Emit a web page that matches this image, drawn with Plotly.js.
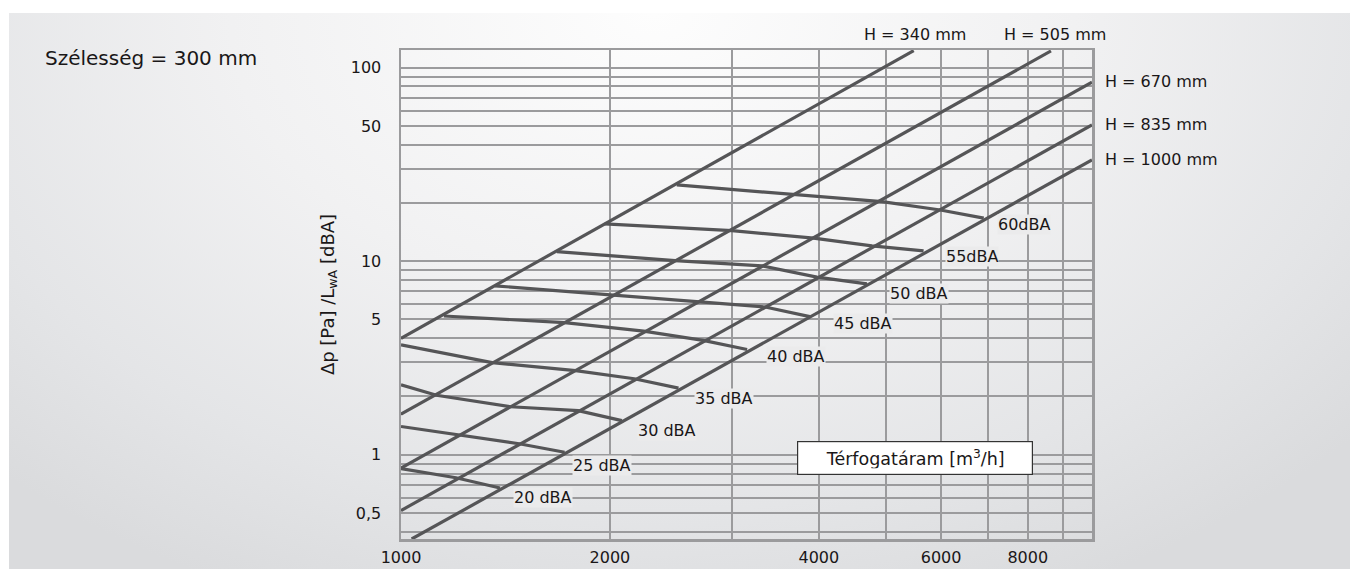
<!DOCTYPE html>
<html><head><meta charset="utf-8">
<script src="https://cdn.plot.ly/plotly-3.0.1.min.js"></script>
<style>
html,body{margin:0;padding:0;background:#fff;width:1360px;height:569px;overflow:hidden}
#panel{position:absolute;left:9px;top:13px;width:1341px;height:556px;
 background:radial-gradient(ellipse 70% 115% at 48% 0%, #fdfdfd 0%, #f1f1f2 45%, #e4e5e7 78%, #dadbdd 100%)}
#chart{position:absolute;left:0;top:0;width:1360px;height:569px}
</style></head><body>
<div id="panel"></div><div id="chart"></div>
<script>
// ---- axis ticks / grid ----
const xLabelVals = [1000,2000,4000,6000,8000];
const xLabelText = ['1000','2000','4000','6000','8000'];
const xMinorVals = [3000,5000,7000,9000];
const yLabelVals = [0.5,1,5,10,50,100];
const yLabelText = ['0,5','1','5','10','50','100'];
const yMinorVals = [0.4,0.6,0.7,0.8,0.9,2,3,4,6,7,8,9,20,30,40,60,70,80,90];

// ---- H (height) lines: volume flow [m3/h] and pressure drop [Pa] ----
const hNames = ['H = 340 mm','H = 505 mm','H = 670 mm','H = 835 mm','H = 1000 mm'];
const hFlow = [[1000,5480],[1000,8640],[1000,9900],[1000,9900],[1036,9900]];
const hDp   = [[4.0,122.5],[1.62,122],[0.854,84.1],[0.515,50.6],[0.367,33.4]];

// ---- sound power level lines ----
const dbaNames = ['60dBA','55dBA','50 dBA','45 dBA','40 dBA','35 dBA','30 dBA','25 dBA','20 dBA'];
const dbaFlow = [
 [2497,3679,4932,5985,6913],
 [1965,2998,3930,4770,5662],
 [1677,2483,3311,3975,4692],
 [1366,2031,2690,3348,3882],
 [1153,1721,2237,2725,3153],
 [1000,1353,1785,2168,2511],
 [1000,1125,1439,1800,2081],
 [1000,1210,1480,1721],
 [1000,1200,1389]
];
const dbaDp = [
 [24.8,22.2,20.3,18.4,16.7],
 [15.6,14.4,13.15,12.0,11.3],
 [11.2,10.08,9.46,8.27,7.64],
 [7.46,6.70,6.17,5.80,5.17],
 [5.21,4.82,4.35,3.90,3.50],
 [3.70,2.99,2.72,2.47,2.21],
 [2.30,2.03,1.77,1.69,1.50],
 [1.40,1.265,1.14,1.03],
 [0.847,0.761,0.673]
];
const dbaLabelFlow = [7909,6658,5582,4636,3711,2923,2416,1947,1602];
const dbaLabelDp   = [15.4,10.57,6.84,4.75,3.20,1.963,1.33,0.877,0.598];

const FONT = 'DejaVu Sans, Verdana, sans-serif';
const LINE = '#555557';
const GRID = '#9b9b9d';
const TXT = '#1a1718';
const lg = Math.log10;

const traces = [];
hNames.forEach((n,i)=>traces.push({type:'scatter',mode:'lines',name:n,x:hFlow[i],y:hDp[i],
  line:{color:LINE,width:3.2},hoverinfo:'skip'}));
dbaNames.forEach((n,i)=>traces.push({type:'scatter',mode:'lines',name:n,x:dbaFlow[i],y:dbaDp[i],
  line:{color:LINE,width:3.2},hoverinfo:'skip'}));

const annotations = [];
dbaNames.forEach((n,i)=>annotations.push({text:n,x:lg(dbaLabelFlow[i]),y:lg(dbaLabelDp[i]),
  xref:'x',yref:'y',showarrow:false,font:{family:FONT,size:16,color:TXT},bgcolor:'#ebebec',borderpad:0}));
// H labels: two above plot, three right of plot
annotations.push({text:hNames[0],x:lg(5505),y:1.0327,xref:'x',yref:'paper',showarrow:false,
  xanchor:'center',yanchor:'middle',font:{family:FONT,size:16,color:TXT}});
annotations.push({text:hNames[1],x:lg(8767),y:1.0327,xref:'x',yref:'paper',showarrow:false,
  xanchor:'center',yanchor:'middle',font:{family:FONT,size:16,color:TXT}});
[[2,84.7],[3,50.6],[4,33.6]].forEach(([i,v])=>annotations.push({text:hNames[i],x:1.0159,y:lg(v),
  xref:'paper',yref:'y',showarrow:false,xanchor:'left',yanchor:'middle',font:{family:FONT,size:16,color:TXT}}));
// axis name box
annotations.push({text:'Térfogatáram [m<sup>3</sup>/h]',x:lg(5508),y:lg(0.965),xref:'x',yref:'y',
  showarrow:false,font:{family:FONT,size:17.5,color:TXT},bgcolor:'#ffffff',bordercolor:'#333333',
  borderwidth:1.2,borderpad:6,width:222,height:20});

const gridStyle = {showgrid:true,gridcolor:GRID,gridwidth:2};
const layout = {
  width:1360,height:569,
  margin:{l:401,r:268,t:50,b:30,pad:0},
  paper_bgcolor:'rgba(0,0,0,0)',plot_bgcolor:'rgba(0,0,0,0)',
  showlegend:false,
  font:{family:FONT,color:TXT},
  title:{text:'Szélesség = 300 mm',xref:'container',yref:'container',x:45/1360,y:1-58/569,
    xanchor:'left',yanchor:'middle',font:{family:FONT,size:20,color:TXT}},
  xaxis:Object.assign({type:'log',range:[3,lg(9900)],tickmode:'array',tickvals:xLabelVals,ticktext:xLabelText,ticks:'',
    ticklabelstandoff:2,tickfont:{family:FONT,size:16,color:TXT},
    minor:Object.assign({tickmode:'array',tickvals:xMinorVals,ticks:''},gridStyle),
    zeroline:false,showline:true,mirror:true,linecolor:GRID,linewidth:2.5,fixedrange:true},gridStyle),
  yaxis:Object.assign({type:'log',range:[lg(0.367),lg(123.4)],tickmode:'array',tickvals:yLabelVals,ticktext:yLabelText,ticks:'',
    ticklabelstandoff:14,tickfont:{family:FONT,size:16,color:TXT},
    minor:Object.assign({tickmode:'array',tickvals:yMinorVals,ticks:''},gridStyle),
    zeroline:false,showline:true,mirror:true,linecolor:GRID,linewidth:2.5,fixedrange:true,
    title:{text:'\u0394p [Pa] /L<sub>wA</sub> [dBA]',font:{family:FONT,size:18,color:TXT},standoff:12}},gridStyle),
  annotations:annotations
};
Plotly.newPlot('chart',traces,layout,{staticPlot:true,displayModeBar:false});
</script></body></html>
